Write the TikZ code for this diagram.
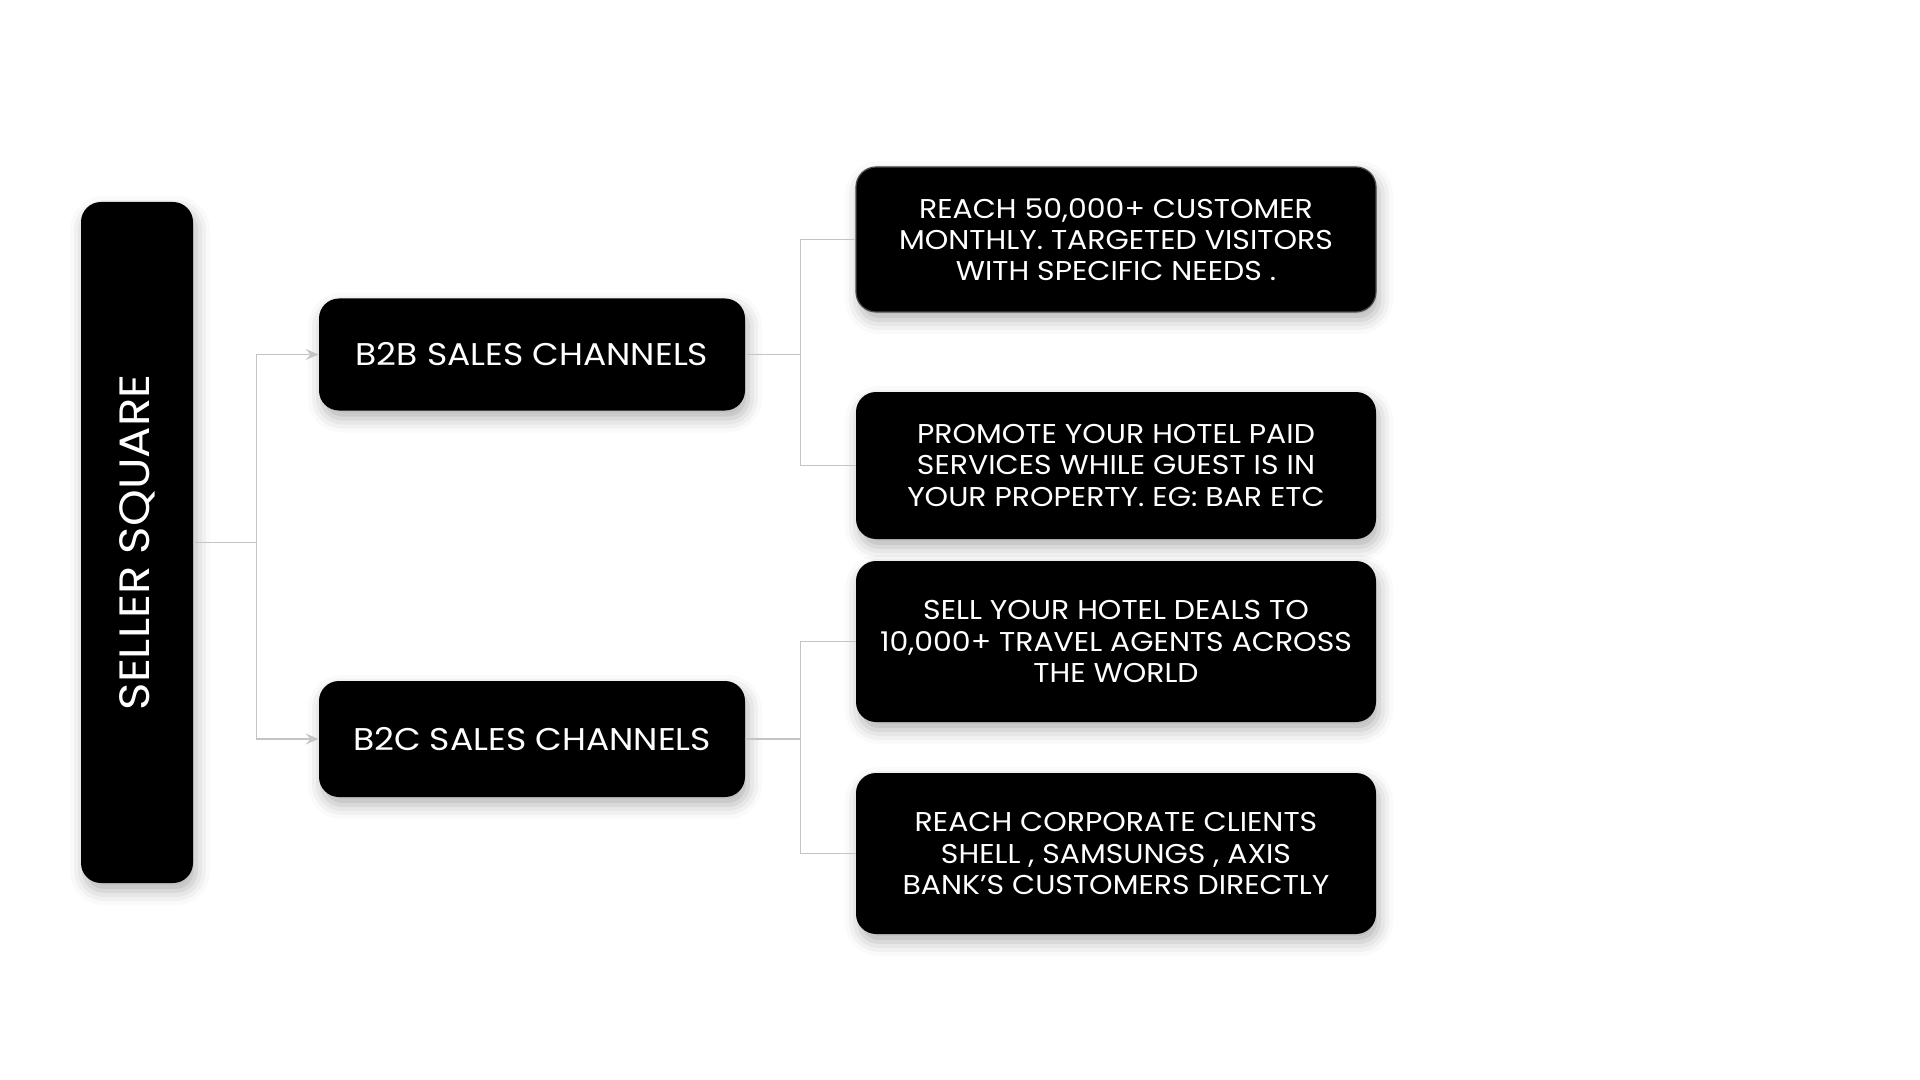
\documentclass[tikz,border=0pt]{standalone}
\usepackage{fontspec}
\setmainfont{Poppins}[FakeStretch=1.1]
\usetikzlibrary{positioning}
\usetikzlibrary{arrows.meta}
\usetikzlibrary{shadows.blur}
\definecolor{linegray}{HTML}{C4C4C4}
\tikzset{box/.style={fill=black,text=white,rounded corners=10pt,align=center,inner sep=0pt,
            blur shadow={shadow xshift=1.5pt,shadow yshift=-4pt,shadow blur radius=7pt,shadow opacity=30}},
         rootbox/.style={box,rotate=90,minimum width=340.5pt,minimum height=56pt,font=\fontsize{21.2}{26}\selectfont},
         midbox/.style={box,minimum width=213pt,font=\fontsize{15.7}{18}\selectfont},
         leafbox/.style={box,minimum width=260pt,font=\fontsize{13.6}{15.6}\selectfont},
         conn/.style={draw=linegray,line width=0.8pt},
         tip/.style={-{Stealth[length=6.5pt,width=5.5pt,inset=2.5pt]}},
         }
\begin{document}
\begin{tikzpicture}[x=0.5pt,y=-0.5pt]
		\useasboundingbox (0,0) rectangle (1920,1080);
		\node[rootbox] (seller) at (137,542.5) {SELLER SQUARE};
		\node[midbox,minimum height=56pt] (btob) at (532,354.5) {B2B SALES CHANNELS};
		\node[midbox,minimum height=58pt] (btoc) at (532,739) {B2C SALES CHANNELS};
		\node[leafbox,minimum height=72.5pt,draw=black!70,line width=0.6pt] (reach) at (1116,239.5) {REACH 50,000+ CUSTOMER\\MONTHLY. TARGETED VISITORS\\WITH SPECIFIC NEEDS .};
		\node[leafbox,minimum height=73.5pt] (promote) at (1116,465.5) {PROMOTE YOUR HOTEL PAID\\SERVICES WHILE GUEST IS IN\\YOUR PROPERTY. EG: BAR ETC};
		\node[leafbox,minimum height=80.5pt] (agents) at (1116,641.5) {SELL YOUR HOTEL DEALS TO\\10,000+ TRAVEL AGENTS ACROSS\\THE WORLD};
		\node[leafbox,minimum height=80.5pt] (corporate) at (1116,853.5) {REACH CORPORATE CLIENTS\\SHELL , SAMSUNGS , AXIS\\BANK'S CUSTOMERS DIRECTLY};
		\draw[conn,tip] (seller.south) -- ++(63,0) |- (btob.west);
		\draw[conn,tip] (seller.south) -- ++(63,0) |- (btoc.west);
		\draw[conn] (btob.east) -- ++(55,0) |- (reach.west);
		\draw[conn] (btob.east) -- ++(55,0) |- (promote.west);
		\draw[conn] (btoc.east) -- ++(55,0) |- (agents.west);
		\draw[conn] (btoc.east) -- ++(55,0) |- (corporate.west);
\end{tikzpicture}
\end{document}
